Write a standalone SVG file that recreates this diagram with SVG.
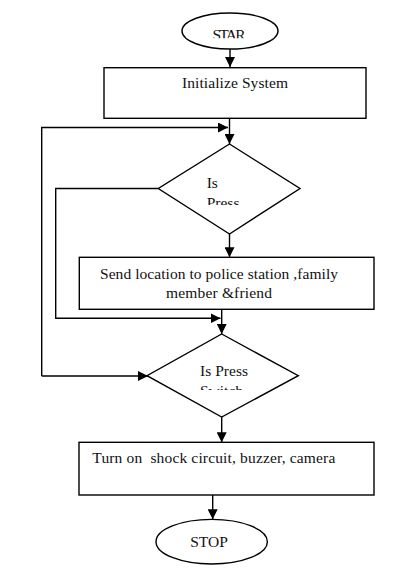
<svg xmlns="http://www.w3.org/2000/svg" width="409" height="587" viewBox="0 0 409 587">
<style>
.shape{fill:#fff;stroke:#000;stroke-width:1.4}
.line{fill:none;stroke:#000;stroke-width:1.4}
.t{font-family:"Liberation Serif","DejaVu Serif",serif;font-size:15.5px;fill:#111;white-space:pre}
</style>
<defs>
<marker id="arr" viewBox="0 0 10 10" refX="10" refY="5" markerWidth="10" markerHeight="10" markerUnits="userSpaceOnUse" orient="auto">
<path d="M0,0 L10,5 L0,10 z" fill="#000"/>
</marker>
<clipPath id="c1"><rect x="0" y="0" width="409" height="38.3"/></clipPath>
<clipPath id="c2"><rect x="0" y="0" width="409" height="205"/></clipPath>
<clipPath id="c3"><rect x="0" y="0" width="409" height="390"/></clipPath>
</defs>
<rect width="409" height="587" fill="#fff"/>
<g id="connectors">
<line class="line" x1="230" y1="49" x2="230" y2="67" marker-end="url(#arr)"/>
<line class="line" x1="229.5" y1="118.3" x2="229.5" y2="144" marker-end="url(#arr)"/>
<path class="line" d="M41.7,376 V127.5 H228" marker-end="url(#arr)"/>
<line class="line" x1="41.7" y1="376" x2="148" y2="376" marker-end="url(#arr)"/>
<path class="line" d="M158.3,188.5 H55.7 V318.3 H220.5" marker-end="url(#arr)"/>
<line class="line" x1="229.5" y1="234" x2="229.5" y2="257.3" marker-end="url(#arr)"/>
<line class="line" x1="221.7" y1="309.3" x2="221.7" y2="334" marker-end="url(#arr)"/>
<line class="line" x1="221.7" y1="417" x2="221.7" y2="442.3" marker-end="url(#arr)"/>
<line class="line" x1="212.7" y1="495" x2="212.7" y2="519.3" marker-end="url(#arr)"/>
</g>
<g id="start">
<ellipse class="shape" cx="230" cy="31" rx="48" ry="18"/>
<text class="t" x="229" y="40" text-anchor="middle" textLength="33" clip-path="url(#c1)">STAR</text>
</g>
<g id="init">
<rect class="shape" x="104" y="67.7" width="262" height="50.6"/>
<text class="t" x="182" y="88" textLength="106">Initialize System</text>
</g>
<g id="decision1">
<polygon class="shape" points="229.5,144 300,188.5 229.5,234 158.3,188.5"/>
<text class="t" clip-path="url(#c2)"><tspan x="206.7" y="188.3">Is</tspan><tspan x="206.7" y="208.3">Press</tspan></text>
</g>
<g id="send">
<rect class="shape" x="79.3" y="257.3" width="294.7" height="52"/>
<text class="t" x="100" y="279" textLength="238">Send location to police station ,family</text>
<text class="t" x="166" y="298" textLength="106">member &amp;friend</text>
</g>
<g id="decision2">
<polygon class="shape" points="221.7,334 298.3,375.7 221.7,417 147,375.7"/>
<text class="t" clip-path="url(#c3)"><tspan x="200" y="375.7" textLength="48">Is Press</tspan><tspan x="200" y="395.5">Switch</tspan></text>
</g>
<g id="action">
<rect class="shape" x="79" y="442.3" width="295" height="52.7"/>
<text class="t" x="92.3" y="463.3" textLength="243">Turn on  shock circuit, buzzer, camera</text>
</g>
<g id="stop">
<ellipse class="shape" cx="211.7" cy="541.7" rx="55.7" ry="22.3"/>
<text class="t" x="209" y="547" text-anchor="middle" textLength="37.7">STOP</text>
</g>
</svg>
